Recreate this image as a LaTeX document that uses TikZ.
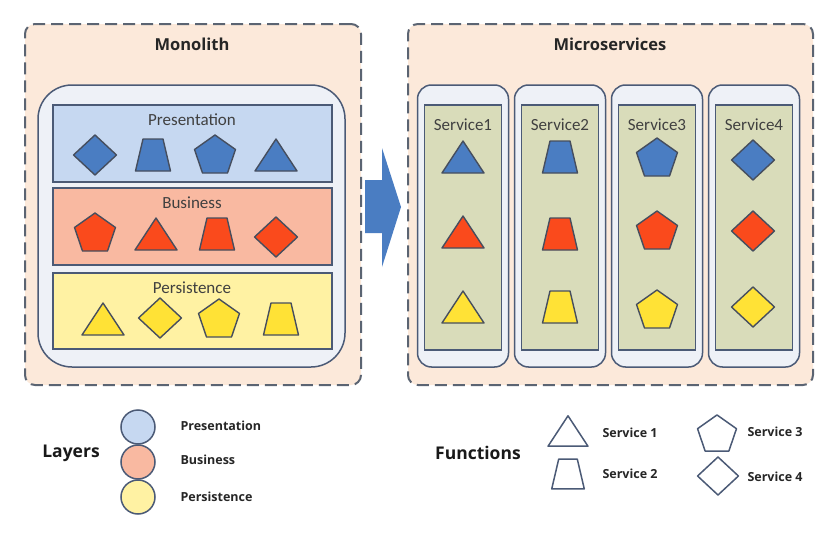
\documentclass[tikz,border=0pt]{standalone}
\usepackage{fontspec}
\setmainfont{Carlito}
\newfontfamily\hfont{Open Sans}
\usetikzlibrary{positioning}
\definecolor{peach}{HTML}{FCE9DA}
\definecolor{dashc}{HTML}{5B6472}
\definecolor{innerc}{HTML}{EEF1F7}
\definecolor{edgec}{HTML}{4B5A76}
\definecolor{presc}{HTML}{C6D8F1}
\definecolor{busc}{HTML}{F9B9A1}
\definecolor{persc}{HTML}{FFF2A3}
\definecolor{servc}{HTML}{D9DCBA}
\definecolor{blueS}{HTML}{4A7DC2}
\definecolor{redS}{HTML}{FA4A1C}
\definecolor{yelS}{HTML}{FFE236}
\definecolor{shEdge}{HTML}{464E5E}
\tikzset{
  outerbox/.style={draw=dashc, fill=peach, line width=2pt, dash pattern=on 12pt off 6pt, rounded corners=10pt, minimum width=#1},
  ibox/.style={draw=edgec, fill=innerc, line width=1.5pt},
  band/.style={draw=edgec, line width=1.5pt, minimum width=279pt},
  title/.style={font=\hfont\bfseries\fontsize{16.5}{18}\selectfont, text=black!85},
  blabel/.style={font=\fontsize{17}{19}\selectfont, text=black!75},
  leg/.style={font=\hfont\bfseries\fontsize{12.5}{14}\selectfont, anchor=west, text=black!85},
  bigleg/.style={font=\hfont\bfseries\fontsize{17.5}{19}\selectfont, text=black!90},
  shp/.style={draw=shEdge, line width=1.4pt, line join=round},
  legshp/.style={draw=edgec, line width=1.5pt, fill=white, line join=round},
  pics/tri/.style={code={\draw[pic actions] (0,-16) -- (21,16) -- (-21,16) -- cycle;}},
  pics/trap/.style={code={\draw[pic actions] (-10,-16) -- (10,-16) -- (17.5,16) -- (-17.5,16) -- cycle;}},
  pics/pent/.style={code={\draw[pic actions] (0,-19) -- (20.5,-4.5) -- (12.5,19) -- (-12.5,19) -- (-20.5,-4.5) -- cycle;}},
  pics/dia/.style={code={\draw[pic actions] (0,-20) -- (21.5,0) -- (0,20) -- (-21.5,0) -- cycle;}},
}
\begin{document}
\begin{tikzpicture}[x=1pt,y=-1pt]
\useasboundingbox (0,0) rectangle (836,538);
\fill[white] (0,0) rectangle (836,538);
% Monolith
\node[outerbox=336pt, minimum height=361pt] (mono) at (193,204.5) {};
\node[title] (monot) at (192,44) {Monolith};
\node[ibox, rounded corners=34pt, minimum width=307pt, minimum height=282pt] (inner) at (191.5,226) {};
\node[band, fill=presc, minimum height=77pt] (pres) at (192.5,143.5) {};
\node[band, fill=busc, minimum height=77pt] (bus) at (192.5,226.5) {};
\node[band, fill=persc, minimum height=76pt] (pers) at (192.5,311) {};
\node[blabel] (prest) at (192,120) {Presentation};
\node[blabel] (bust) at (192,203) {Business};
\node[blabel] (perst) at (192,288) {Persistence};
% presentation shapes
\pic[shp, fill=blueS] at (95,155) {dia};
\pic[shp, fill=blueS] at (153,155) {trap};
\pic[shp, fill=blueS] at (215,154) {pent};
\pic[shp, fill=blueS] at (276,155) {tri};
% business shapes
\pic[shp, fill=redS] at (95,232) {pent};
\pic[shp, fill=redS] at (156,234) {tri};
\pic[shp, fill=redS] at (217,234) {trap};
\pic[shp, fill=redS] at (276,237) {dia};
% persistence shapes
\pic[shp, fill=yelS] at (103,319) {tri};
\pic[shp, fill=yelS] at (160,318) {dia};
\pic[shp, fill=yelS] at (219,318) {pent};
\pic[shp, fill=yelS] at (281,319) {trap};
% arrow
\fill[blueS] (365,180) -- (382,180) -- (382,148) -- (401,207) -- (382,267) -- (382,233) -- (365,233) -- cycle;
% Microservices
\node[outerbox=405pt, minimum height=361pt] (micro) at (610.5,204.5) {};
\node[title] (microt) at (610,44) {Microservices};
\foreach \cx/\i in {463/1,560/2,657/3,754/4}{
  \node[ibox, rounded corners=14pt, minimum width=91pt, minimum height=282pt] (so\i) at (\cx,226) {};
  \node[band, fill=servc, minimum width=77pt, minimum height=245pt] (si\i) at (\cx,227.5) {};
  \node[blabel] (st\i) at (\cx,125) {Service\i};
}
\pic[shp, fill=blueS] at (463,157) {tri};
\pic[shp, fill=redS] at (463,232) {tri};
\pic[shp, fill=yelS] at (463,307) {tri};
\pic[shp, fill=blueS] at (560,157) {trap};
\pic[shp, fill=redS] at (560,234) {trap};
\pic[shp, fill=yelS] at (560,307) {trap};
\pic[shp, fill=blueS] at (657,157) {pent};
\pic[shp, fill=redS] at (657,230) {pent};
\pic[shp, fill=yelS] at (657,309) {pent};
\pic[shp, fill=blueS] at (753,160) {dia};
\pic[shp, fill=redS] at (753,231) {dia};
\pic[shp, fill=yelS] at (753,307) {dia};
% Layers legend
\node[bigleg] (layers) at (71,453) {Layers};
\node[circle, draw=edgec, line width=1.5pt, fill=presc, minimum size=34pt, inner sep=0pt] (c1) at (138,427) {};
\node[circle, draw=edgec, line width=1.5pt, fill=busc, minimum size=34pt, inner sep=0pt] (c2) at (138,462) {};
\node[circle, draw=edgec, line width=1.5pt, fill=persc, minimum size=34pt, inner sep=0pt] (c3) at (138,497) {};
\node[leg] (l1) at (177,426) {Presentation};
\node[leg] (l2) at (177,460) {Business};
\node[leg] (l3) at (177,497) {Persistence};
% Functions legend
\node[bigleg] (funcs) at (478,453) {Functions};
\pic[legshp, scale=0.95] at (568,431) {tri};
\pic[legshp, scale=0.93] at (568,474) {trap};
\pic[legshp, scale=0.95] at (717,433) {pent};
\pic[legshp, scale=0.95] at (718,476) {dia};
\node[leg] (f1) at (599,433) {Service 1};
\node[leg] (f2) at (599,474) {Service 2};
\node[leg] (f3) at (744,432) {Service 3};
\node[leg] (f4) at (744,477) {Service 4};
\end{tikzpicture}
\end{document}
